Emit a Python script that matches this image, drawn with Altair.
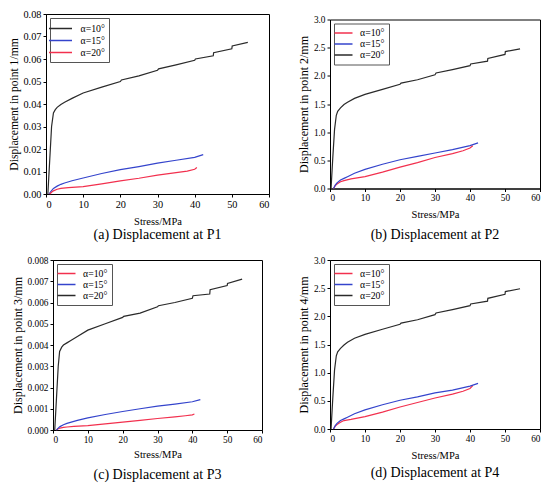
import altair as alt
import pandas as pd

LABELS = ["α=10°", "α=15°", "α=20°"]
X_TICKS = [0, 10, 20, 30, 40, 50, 60]

# ---------- Panel (a) ----------
A_Y_TICKS = [0.00, 0.01, 0.02, 0.03, 0.04, 0.05, 0.06, 0.07, 0.08]
A_10_X = [0.5, 1.0, 1.5, 2.0, 2.5, 3, 4, 5, 7, 10, 15, 20, 20.3, 25, 30, 30.3, 35, 40, 40.2, 45, 45.1, 50, 50.1, 54.3]
A_10_Y = [0, 0.015, 0.030, 0.036, 0.0375, 0.0385, 0.0398, 0.0408, 0.0425, 0.0449, 0.0475, 0.0500, 0.0507,
          0.0525, 0.0550, 0.0556, 0.0574, 0.0594, 0.0600, 0.0614, 0.0628, 0.0645, 0.0658, 0.0674]
A_15_X = [0.8, 1.5, 2, 3, 4, 5, 7, 10, 15, 20, 25, 30, 35, 40, 42.3]
A_15_Y = [0, 0.0015, 0.0025, 0.0035, 0.0043, 0.0049, 0.0059, 0.0071, 0.0091, 0.0108, 0.0122, 0.0137, 0.0150, 0.0163, 0.0175]
A_20_X = [1.0, 1.5, 2, 3, 4, 6, 10, 15, 20, 25, 30, 35, 38, 40, 40.6]
A_20_Y = [0, 0.0008, 0.0014, 0.0021, 0.0025, 0.0028, 0.0033, 0.0045, 0.0058, 0.0070, 0.0084, 0.0095, 0.0102, 0.0110, 0.0118]

# ---------- Panel (b) ----------
B_Y_TICKS = [0.0, 0.5, 1.0, 1.5, 2.0, 2.5, 3.0]
B_20_X = [0.3, 0.8, 1.3, 1.8, 2.2, 3, 4, 5, 7, 10, 15, 20, 20.3, 25, 30, 30.3, 35, 40, 40.2, 45, 45.1, 50, 50.1, 54.3]
B_20_Y = [0, 0.55, 1.05, 1.30, 1.37, 1.43, 1.49, 1.53, 1.60, 1.67, 1.76, 1.85, 1.87, 1.93, 2.02, 2.05,
          2.11, 2.18, 2.21, 2.26, 2.31, 2.38, 2.43, 2.48]
B_15_X = [1.0, 1.5, 2, 3, 4, 5, 7, 10, 15, 20, 25, 30, 35, 40, 42.3]
B_15_Y = [0, 0.06, 0.10, 0.15, 0.18, 0.21, 0.27, 0.34, 0.43, 0.51, 0.57, 0.63, 0.69, 0.76, 0.81]
B_10_X = [1.0, 1.5, 2, 3, 4, 6, 10, 15, 20, 25, 30, 35, 38, 40, 40.8]
B_10_Y = [0, 0.05, 0.08, 0.12, 0.14, 0.17, 0.21, 0.29, 0.38, 0.46, 0.55, 0.62, 0.67, 0.72, 0.76]

# ---------- Panel (c) ----------
C_Y_TICKS = [0.000, 0.001, 0.002, 0.003, 0.004, 0.005, 0.006, 0.007, 0.008]
C_20_X = [0.5, 1.0, 1.5, 1.9, 2.5, 3, 4, 5, 7, 10, 15, 20, 20.3, 25, 30, 30.3, 35, 40, 40.2, 45, 45.1, 50, 50.1, 54.3]
C_20_Y = [0, 0.0015, 0.0030, 0.0037, 0.0039, 0.0040, 0.0041, 0.0042, 0.0044, 0.0047, 0.0050, 0.0053, 0.00535,
          0.0055, 0.0058, 0.00585, 0.0060, 0.0062, 0.00632, 0.0064, 0.0066, 0.0068, 0.0069, 0.0071]
C_15_X = [1.0, 1.5, 2, 3, 4, 5, 7, 10, 15, 20, 25, 30, 35, 40, 42.3]
C_15_Y = [0, 0.00009, 0.00016, 0.00025, 0.00031, 0.00036, 0.00045, 0.00057, 0.00073, 0.00087, 0.00100,
          0.00112, 0.00122, 0.00133, 0.00143]
C_10_X = [1.0, 1.5, 2, 3, 4, 6, 10, 15, 20, 25, 30, 35, 38, 40, 40.6]
C_10_Y = [0, 0.00006, 0.00009, 0.00012, 0.00014, 0.00017, 0.00021, 0.00029, 0.00037, 0.00045, 0.00054,
          0.00062, 0.00067, 0.00071, 0.00075]

# ---------- Panel (d) ----------
D_Y_TICKS = [0.0, 0.5, 1.0, 1.5, 2.0, 2.5, 3.0]
D_20_X = [0.3, 0.8, 1.3, 1.8, 2.2, 3, 4, 5, 7, 10, 15, 20, 20.3, 25, 30, 30.3, 35, 40, 40.2, 45, 45.1, 50, 50.1, 54.3]
D_20_Y = [0, 0.55, 1.05, 1.30, 1.37, 1.43, 1.49, 1.54, 1.61, 1.68, 1.77, 1.86, 1.88, 1.94, 2.03, 2.06,
          2.12, 2.19, 2.22, 2.27, 2.32, 2.39, 2.44, 2.49]
D_15_X = [1.0, 1.5, 2, 3, 4, 5, 7, 10, 15, 20, 25, 30, 35, 40, 42.3]
D_15_Y = [0, 0.06, 0.10, 0.15, 0.18, 0.21, 0.27, 0.34, 0.43, 0.51, 0.57, 0.64, 0.69, 0.76, 0.81]
D_10_X = [1.0, 1.5, 2, 3, 4, 6, 10, 15, 20, 25, 30, 35, 38, 40, 40.8]
D_10_Y = [0, 0.05, 0.08, 0.12, 0.15, 0.17, 0.22, 0.30, 0.39, 0.47, 0.55, 0.62, 0.67, 0.72, 0.77]

BLACK = "#2a2a2a"
BLUE = "#3444cc"
RED = "#f2304e"
SERIF = "'Liberation Serif', 'Times New Roman', serif"


def frame(series):
    rows = []
    for lab, xs, ys in series:
        for i, (x, y) in enumerate(zip(xs, ys)):
            rows.append({"s": lab, "x": x, "y": y, "i": i})
    return pd.DataFrame(rows)


def panel(df, colors, ytitle, yticks, fmt, cap, w, h, lab_fs, ytitle_fs, x_title_pad, cap_off, sym):
    return alt.Chart(df).mark_line(strokeWidth=1.2).encode(
        x=alt.X("x:Q", scale=alt.Scale(domain=[0, 60], nice=False),
                axis=alt.Axis(values=X_TICKS, format="d", title="Stress/MPa",
                              labelFont=SERIF, titleFont=SERIF, titleFontWeight="normal",
                              labelFontSize=lab_fs, titleFontSize=10.5, titlePadding=x_title_pad)),
        y=alt.Y("y:Q", scale=alt.Scale(domain=[yticks[0], yticks[-1]], nice=False),
                axis=alt.Axis(values=yticks, format=fmt, title=ytitle,
                              labelFont=SERIF, titleFont=SERIF, titleFontWeight="normal",
                              labelFontSize=lab_fs, titleFontSize=ytitle_fs, titlePadding=3)),
        color=alt.Color("s:N", scale=alt.Scale(domain=LABELS, range=colors),
                        legend=alt.Legend(title=None, orient="top-left", offset=4, padding=4,
                                          strokeColor="#555555", symbolType="M-2,0H2",
                                          symbolSize=sym * sym / 4, symbolStrokeWidth=1.5,
                                          labelOffset=sym / 2 + 2,
                                          labelFont=SERIF, labelFontSize=9.8, rowPadding=0,
                                          labelColor="black")),
        order="i:Q",
    ).properties(width=w, height=h,
                 title=alt.TitleParams(cap, orient="bottom", font=SERIF, fontSize=14,
                                       fontWeight="normal", color="black", offset=cap_off))


pa = panel(frame([(LABELS[0], A_10_X, A_10_Y), (LABELS[1], A_15_X, A_15_Y), (LABELS[2], A_20_X, A_20_Y)]),
           [BLACK, BLUE, RED], "Displacement in point 1/mm", A_Y_TICKS, ".2f",
           "(a) Displacement at P1", 223, 180, 10.3, 11.6, 7.5, 1, 23)
pb = panel(frame([(LABELS[0], B_10_X, B_10_Y), (LABELS[1], B_15_X, B_15_Y), (LABELS[2], B_20_X, B_20_Y)]),
           [RED, BLUE, BLACK], "Displacement in point 2/mm", B_Y_TICKS, ".1f",
           "(b) Displacement at P2", 210, 169, 9.3, 12, 6.5, 8.5, 18)
pc = panel(frame([(LABELS[0], C_10_X, C_10_Y), (LABELS[1], C_15_X, C_15_Y), (LABELS[2], C_20_X, C_20_Y)]),
           [RED, BLUE, BLACK], "Displacement in point 3/mm", C_Y_TICKS, ".3f",
           "(c) Displacement at P3", 209, 170, 9.3, 12, 5.5, 7.5, 18)
pd_ = panel(frame([(LABELS[0], D_10_X, D_10_Y), (LABELS[1], D_15_X, D_15_Y), (LABELS[2], D_20_X, D_20_Y)]),
            [RED, BLUE, BLACK], "Displacement in point 4/mm", D_Y_TICKS, ".1f",
            "(d) Displacement at P4", 210, 169, 9.3, 12, 7.5, 4.5, 18)

chart = alt.concat(
    pa, pb, pc, pd_, columns=2, spacing={"row": 66, "column": 61},
    bounds="flush", center=True, align="each"
).resolve_scale(
    color="independent", x="independent", y="independent"
).properties(
    padding=0
).configure_view(
    stroke="black", strokeWidth=1
).configure_axis(
    labelFont=SERIF, titleFont=SERIF, labelColor="black", titleColor="black",
    titleFontWeight="normal", domainColor="black", tickColor="black", tickSize=3,
    grid=False, labelPadding=2
).configure_legend(
    labelFont=SERIF
)

chart.save("out.html", embed_options={"renderer": "svg", "actions": False})
